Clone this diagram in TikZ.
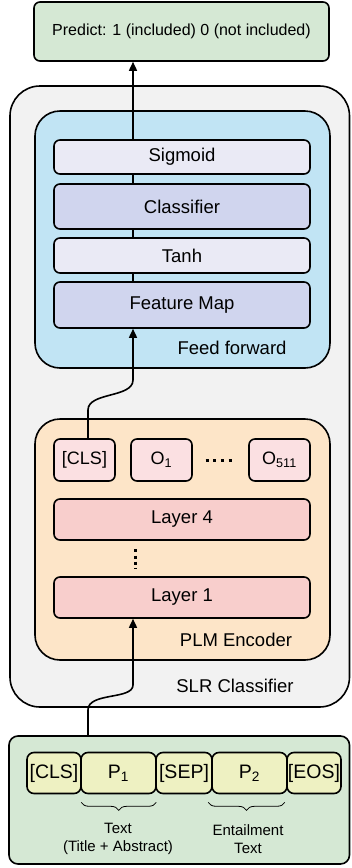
\documentclass[tikz,border=0pt]{standalone}
\usepackage{fontspec}
\setmainfont{Liberation Sans}
\usetikzlibrary{arrows.meta,decorations.pathreplacing}

\definecolor{outgreen}{HTML}{D5E8D4}
\definecolor{slrgrey}{HTML}{F2F2F2}
\definecolor{ffblue}{HTML}{C1E4F4}
\definecolor{lightlav}{HTML}{EAEAF5}
\definecolor{darklav}{HTML}{D0D5EE}
\definecolor{plmorange}{HTML}{FDE5C8}
\definecolor{tokpink}{HTML}{FBE0E2}
\definecolor{laypink}{HTML}{F8CECC}
\definecolor{tokyellow}{HTML}{EEF1C2}

\tikzset{
  lbox/.style={draw=black, line width=1.6pt, rounded corners=6pt, inner sep=0pt},
  lbl/.style={font=\fontsize{18.5}{20}\selectfont},
  grplbl/.style={font=\fontsize{18.5}{20}\selectfont},
  grp/.style={draw=black, line width=1.6pt},
  conn/.style={line width=1.6pt},
  arr/.style={conn, -{Triangle[length=9pt,width=8pt]}},
  tok/.style={lbox, fill=tokyellow, font=\fontsize{19.5}{21}\selectfont, rounded corners=7pt},
  dotrow/.style={line width=3pt, dash pattern=on 3pt off 4.7pt},
  underbrace/.style={line width=0.8pt, decoration={brace, mirror, amplitude=8pt}, decorate},
}

\begin{document}
\begin{tikzpicture}[x=1pt,y=-1pt]
\useasboundingbox (0,0) rectangle (351,868);

% output box
\node[lbox, fill=outgreen, minimum width=295pt, minimum height=59pt, font=\fontsize{16}{18}\selectfont] (pred) at (181.5,31.5)
  {Predict: 1 (included) 0 (not included)};

% SLR classifier container
\draw[grp, fill=slrgrey, rounded corners=30pt] (10,86) rectangle (349.5,707);
\node[grplbl] (slr) at (235,686) {SLR Classifier};

% feed-forward head
\draw[grp, fill=ffblue, rounded corners=25pt] (35,111) rectangle (330,368);
\node[grplbl] (fflab) at (232,348) {Feed forward};

\node[lbox, fill=lightlav, minimum width=256pt, minimum height=34pt, lbl] (sig) at (182,157) {Sigmoid};
\node[lbox, fill=darklav, minimum width=256pt, minimum height=45pt, lbl] (cls) at (182,206.5) {Classifier};
\node[lbox, fill=lightlav, minimum width=256pt, minimum height=35pt, lbl] (tanh) at (182,255.5) {Tanh};
\node[lbox, fill=darklav, minimum width=256pt, minimum height=46pt, lbl] (fmap) at (182,305) {Feature Map};

% PLM encoder
\draw[grp, fill=plmorange, rounded corners=25pt] (35,419) rectangle (330,660);
\node[grplbl] (plmlab) at (236,640) {PLM Encoder};

\node[lbox, fill=tokpink, minimum width=61pt, minimum height=42pt, font=\fontsize{18}{20}\selectfont] (ocls) at (84.5,460) {[CLS]};
\node[lbox, fill=tokpink, minimum width=61pt, minimum height=42pt, font=\fontsize{18}{20}\selectfont] (o1) at (161.5,460) {O\textsubscript{1}};
\node[lbox, fill=tokpink, minimum width=61pt, minimum height=42pt, font=\fontsize{18}{20}\selectfont] (o511) at (279.5,460) {O\textsubscript{511}};
\coordinate (hd1) at (205.5,460.5);
\coordinate (hd2) at (236,460.5);
\draw[dotrow] (hd1) -- (hd2);

\node[lbox, fill=laypink, minimum width=256pt, minimum height=41pt, lbl] (l4) at (182,519.5) {Layer 4};
\node[lbox, fill=laypink, minimum width=256pt, minimum height=41pt, lbl] (l1) at (182,597.5) {Layer 1};
\draw[line width=3pt, dash pattern=on 3pt off 3.2pt] ([xshift=-47pt,yshift=-8.5pt]l4.south) -- ([xshift=-47pt,yshift=7pt]l1.north);

% input sequence
\draw[grp, fill=outgreen, rounded corners=9pt] (9,736) rectangle (349.5,864);
\coordinate (intop) at (88,736);
\node[tok, minimum width=54pt, minimum height=41pt] (icls) at (54,773) {[CLS]};
\node[tok, minimum width=75pt, minimum height=41pt] (p1) at (118.5,773) {P\textsubscript{1}};
\node[tok, minimum width=56pt, minimum height=41pt] (sep) at (184,773) {[SEP]};
\node[tok, minimum width=75pt, minimum height=41pt] (p2) at (249.5,773) {P\textsubscript{2}};
\node[tok, minimum width=54pt, minimum height=41pt] (eos) at (314,773) {[EOS]};

\draw[underbrace] ([xshift=1pt,yshift=-8pt]p1.south west) -- ([xshift=-0.5pt,yshift=-8pt]p1.south east);
\draw[underbrace] ([xshift=-3pt,yshift=-8pt]p2.south west) -- ([xshift=-3pt,yshift=-8pt]p2.south east);
\node[align=center, font=\fontsize{15}{18}\selectfont] (t1) at (118,839) {Text\\(Title + Abstract)};
\node[align=center, font=\fontsize{15}{18}\selectfont] (t2) at (248,839) {Entailment\\Text};

% connectors
\draw[arr] (sig.north -| 133,0) -- (pred.south -| 133,0);
\draw[conn] (cls.north -| 133,0) -- (sig.south -| 133,0);
\draw[conn] (tanh.north -| 133,0) -- (cls.south -| 133,0);
\draw[conn] (fmap.north -| 133,0) -- (tanh.south -| 133,0);
\draw[arr] (ocls.north -| 88,0) -- (88,410) .. controls (88,392) and (133,398) .. (133,380) -- (fmap.south -| 133,0);
\draw[arr] (intop) -- (88,710) .. controls (88,692) and (133,700) .. (133,685) -- (l1.south -| 133,0);
\end{tikzpicture}
\end{document}
